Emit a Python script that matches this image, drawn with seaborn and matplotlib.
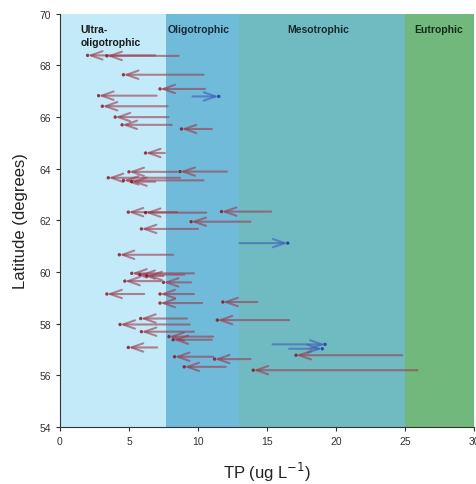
import numpy as np
import pandas as pd
import matplotlib
matplotlib.use("Agg")
import matplotlib.pyplot as plt
import seaborn as sns

# latitude of each lake and TP before -> after
lat = [68.39, 68.37, 67.64, 67.09, 66.80, 66.83, 66.42, 66.00, 65.70, 65.54,
       64.61, 63.89, 63.88, 63.65, 63.55, 63.50, 62.34, 62.30, 62.32, 61.95,
       61.67, 61.12, 60.67, 59.95, 59.90, 59.85, 59.65, 59.60, 59.15, 59.15,
       58.80, 58.84, 58.20, 57.97, 58.14, 57.69, 57.50, 57.38, 57.20, 57.03,
       57.08, 56.78, 56.72, 56.63, 56.33, 56.20]
tp_start = [6.9, 8.6, 10.4, 10.5, 9.6, 7.0, 7.8, 7.85, 8.1, 11.0,
            7.6, 12.1, 8.5, 8.7, 10.4, 6.9, 15.3, 10.6, 8.5, 13.8,
            10.0, 13.0, 8.2, 9.7, 9.0, 7.5, 7.3, 9.5, 6.1, 9.7,
            10.3, 14.3, 9.2, 9.4, 16.6, 9.7, 11.1, 11.0, 15.4, 16.6,
            7.05, 24.8, 11.1, 13.8, 12.0, 25.9]
tp_end = [2.0, 3.4, 4.6, 7.25, 11.5, 2.8, 3.07, 4.0, 4.5, 8.8,
          6.2, 8.7, 5.0, 3.5, 4.6, 5.2, 11.7, 6.2, 4.95, 9.5,
          5.9, 16.5, 4.3, 5.2, 5.8, 6.3, 4.7, 7.5, 3.4, 7.25,
          7.25, 11.8, 5.85, 4.35, 11.4, 5.9, 7.9, 8.2, 19.2, 19.0,
          4.95, 17.1, 8.3, 11.2, 9.0, 14.0]

zones = ["Ultra-\noligotrophic", "Oligotrophic", "Mesotrophic", "Eutrophic"]
zone_edges = [0, 7.7, 13, 25, 30]
zone_colors = ["#c2eaf8", "#70bbd9", "#70bbc2", "#70b87c"]

df = pd.DataFrame({"lat": lat, "start": tp_start, "end": tp_end})
df["change"] = np.where(df["end"] < df["start"], "down", "up")

sns.set_style("ticks")
plt.rcParams["font.family"] = ["Liberation Sans", "DejaVu Sans"]

fig = plt.figure(figsize=(4.76, 4.85), dpi=100)
ax = fig.add_axes([0.126, 0.1175, 0.87, 0.852])

for i in range(4):
    ax.axvspan(zone_edges[i], zone_edges[i + 1], color=zone_colors[i], lw=0, zorder=0)

ax.text(1.5, 69.6, zones[0], fontsize=7.5, fontweight="bold", color="#1a1a1a",
        va="top", ha="left", linespacing=1.3)
ax.text(7.8, 69.6, zones[1], fontsize=7.5, fontweight="bold", color="#1a2a35",
        va="top", ha="left")
ax.text(18.7, 69.6, zones[2], fontsize=7.5, fontweight="bold", color="#1a2a2a",
        va="top", ha="center")
ax.text(27.4, 69.6, zones[3], fontsize=7.5, fontweight="bold", color="#1a2a1a",
        va="top", ha="center")

line_col = {"down": "#9a3a4c", "up": "#3d5fb5"}
tip_col = {"down": "#8b0a1a", "up": "#1a2aa0"}

for _, r in df.iterrows():
    ax.annotate("", xy=(r["end"], r["lat"]), xytext=(r["start"], r["lat"]),
                arrowprops=dict(arrowstyle="->,head_length=0.85,head_width=0.3",
                                color=line_col[r["change"]], lw=1.5, alpha=0.6,
                                shrinkA=0, shrinkB=0), zorder=3)

sns.scatterplot(data=df, x="end", y="lat", hue="change", palette=tip_col,
                s=6, marker="o", linewidth=0, alpha=0.8, legend=False, ax=ax, zorder=4)

ax.set_xlim(0, 30)
ax.set_ylim(54, 70)
ax.set_xticks(range(0, 31, 5))
ax.set_yticks(range(54, 71, 2))
ax.tick_params(labelsize=7.5, length=3, width=0.8, colors="#333333", labelcolor="#333333")
ax.set_xlabel("TP (ug L$^{-1}$)", fontsize=12, labelpad=10, color="#222222")
ax.set_ylabel("Latitude (degrees)", fontsize=12, labelpad=8, color="#222222")
sns.despine(ax=ax)
ax.spines["left"].set_color("#333333")
ax.spines["bottom"].set_color("#333333")

fig.savefig("out.png", dpi=100)
